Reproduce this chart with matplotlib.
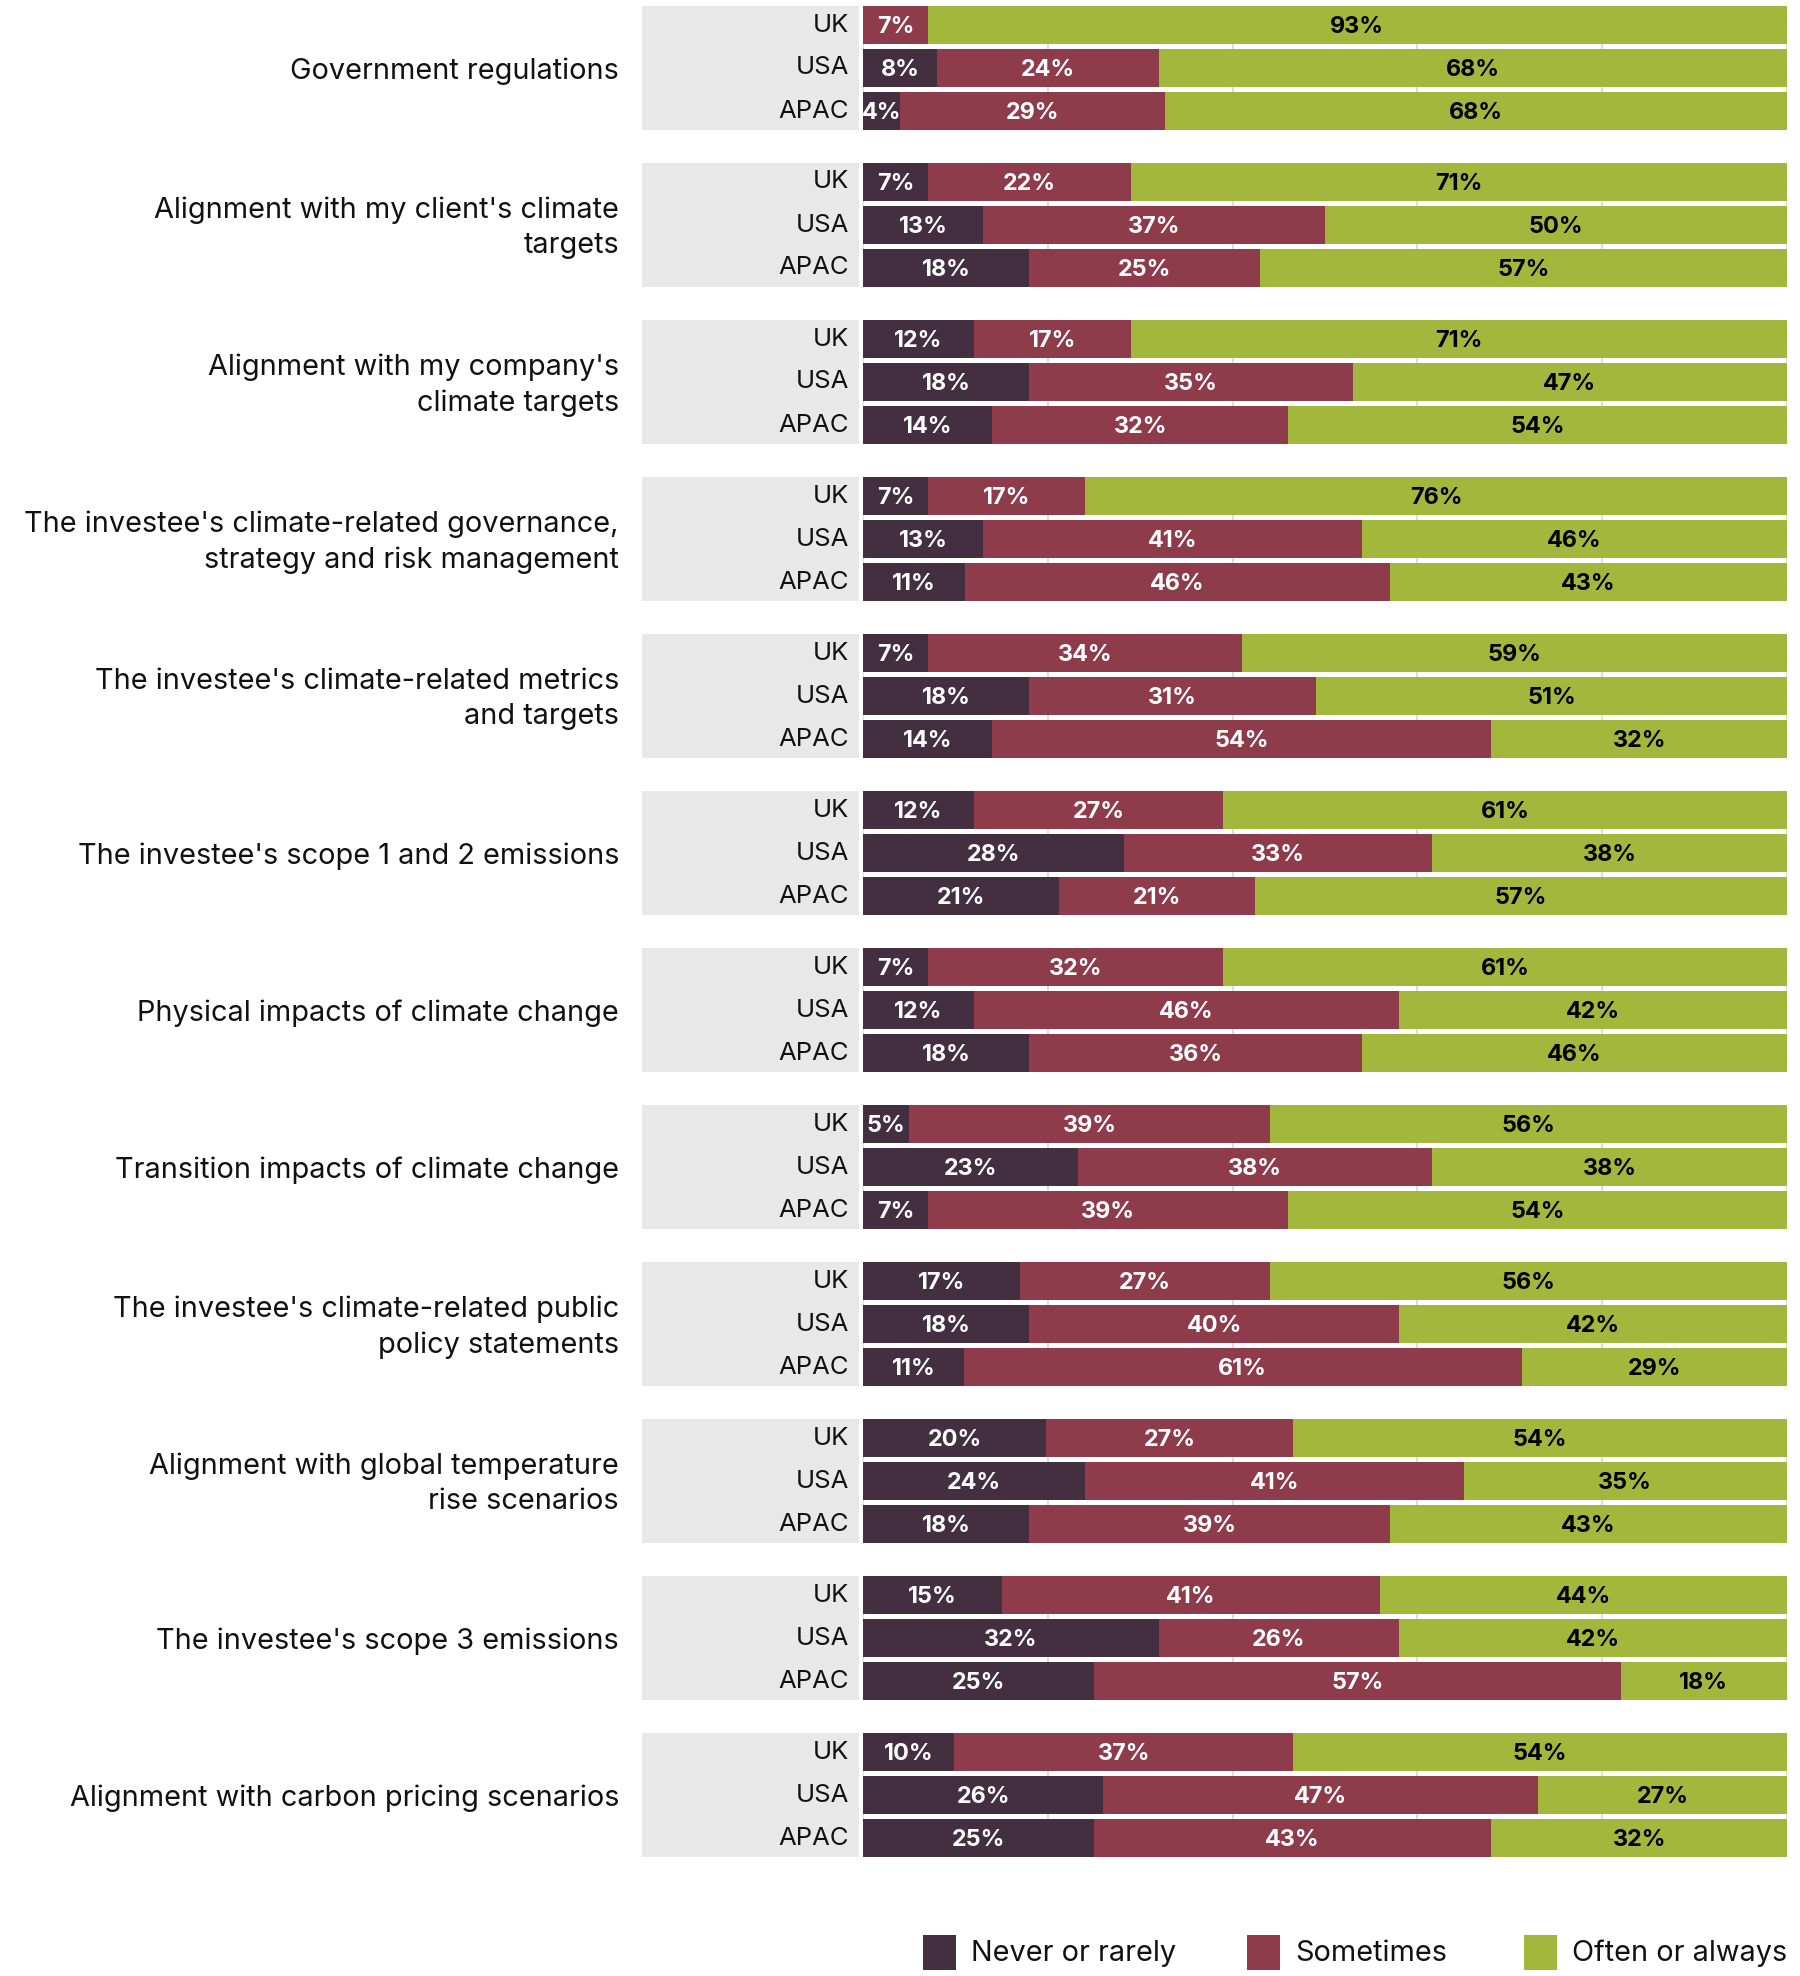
import matplotlib
matplotlib.use("Agg")
import matplotlib.pyplot as plt
from matplotlib.patches import Rectangle
import numpy as np

plt.rcParams['font.family'] = ['Inter', 'DejaVu Sans']

categories = [
    "Government regulations",
    "Alignment with my client's climate\ntargets",
    "Alignment with my company's\nclimate targets",
    "The investee's climate-related governance,\nstrategy and risk management",
    "The investee's climate-related metrics\nand targets",
    "The investee's scope 1 and 2 emissions",
    "Physical impacts of climate change",
    "Transition impacts of climate change",
    "The investee's climate-related public\npolicy statements",
    "Alignment with global temperature\nrise scenarios",
    "The investee's scope 3 emissions",
    "Alignment with carbon pricing scenarios",
]
regions = ["UK", "USA", "APAC"]
series = ["Never or rarely", "Sometimes", "Often or always"]

# [UK, USA, APAC] per category
never = [
    [0, 8, 4], [7, 13, 18], [12, 18, 14], [7, 13, 11], [7, 18, 14], [12, 28, 21],
    [7, 12, 18], [5, 23, 7], [17, 18, 11], [20, 24, 18], [15, 32, 25], [10, 26, 25],
]
sometimes = [
    [7, 24, 29], [22, 37, 25], [17, 35, 32], [17, 41, 46], [34, 31, 54], [27, 33, 21],
    [32, 46, 36], [39, 38, 39], [27, 40, 61], [27, 41, 39], [41, 26, 57], [37, 47, 43],
]
often = [
    [93, 68, 68], [71, 50, 57], [71, 47, 54], [76, 46, 43], [59, 51, 32], [61, 38, 57],
    [61, 42, 46], [56, 38, 54], [56, 42, 29], [54, 35, 43], [44, 42, 18], [54, 27, 32],
]

colors = ["#442f41", "#8e3b4b", "#a2b73c"]
text_colors = ["white", "white", "black"]

W, H = 1800, 1976
fig = plt.figure(figsize=(W / 100, H / 100), dpi=100)

# layout (pixels)
BAR_LEFT, BAR_RIGHT = 863, 1787
TOP, GROUP_PITCH, BAR_PITCH, BAR_H = 6, 157, 43, 38
px_per_unit = (BAR_RIGHT - BAR_LEFT) / 100.0
PANEL_LEFT, PANEL_RIGHT = 642, 859

ax = fig.add_axes([BAR_LEFT / W, 0, (BAR_RIGHT - BAR_LEFT) / W, 1])
ax.set_xlim(0, 100)
ax.set_ylim(H, 0)
ax.axis("off")

def to_x(px):
    return (px - BAR_LEFT) / px_per_unit

for g, cat in enumerate(categories):
    gtop = TOP + g * GROUP_PITCH
    gbot = gtop + 2 * BAR_PITCH + BAR_H
    # grey panel
    ax.add_patch(Rectangle((to_x(PANEL_LEFT), gtop), to_x(PANEL_RIGHT) - to_x(PANEL_LEFT),
                           gbot - gtop, facecolor="#e8e8e8", edgecolor="none",
                           clip_on=False, zorder=0))
    # grid lines
    ax.vlines(np.arange(0, 101, 20), gtop, gbot, color="#dddddd", lw=1.5, zorder=0.5)
    # category label
    ax.text(to_x(619), (gtop + gbot) / 2 + 3, cat, ha="right", va="center",
            fontsize=20.8, color="#111111", linespacing=1.4, clip_on=False)
    for r, reg in enumerate(regions):
        yc = gtop + r * BAR_PITCH + BAR_H / 2
        vals = np.array([never[g][r], sometimes[g][r], often[g][r]], dtype=float)
        widths = vals / vals.sum() * 100
        left = 0.0
        for s in range(3):
            if vals[s] > 0:
                ax.barh(yc, widths[s], left=left, height=BAR_H, color=colors[s],
                        edgecolor="none", zorder=2)
                ax.text(left + widths[s] / 2, yc + 2, f"{int(vals[s])}%", ha="center",
                        va="center", fontsize=16.8, fontweight="bold",
                        color=text_colors[s], zorder=3)
            left += widths[s]
        ax.text(to_x(849), yc, reg, ha="right", va="center", fontsize=18.5,
                color="#111111", clip_on=False)

# legend
leg_x = [923, 1247, 1524]
for s, name in enumerate(series):
    fig.patches.append(Rectangle((leg_x[s] / W, 1 - 1970 / H), 33 / W, 35 / H,
                                 transform=fig.transFigure, facecolor=colors[s],
                                 edgecolor="none"))
    fig.text((leg_x[s] + 48) / W, 1 - 1953 / H, name, ha="left", va="center",
             fontsize=20.8, color="#111111")

fig.savefig("out.png", dpi=100, facecolor="white")
